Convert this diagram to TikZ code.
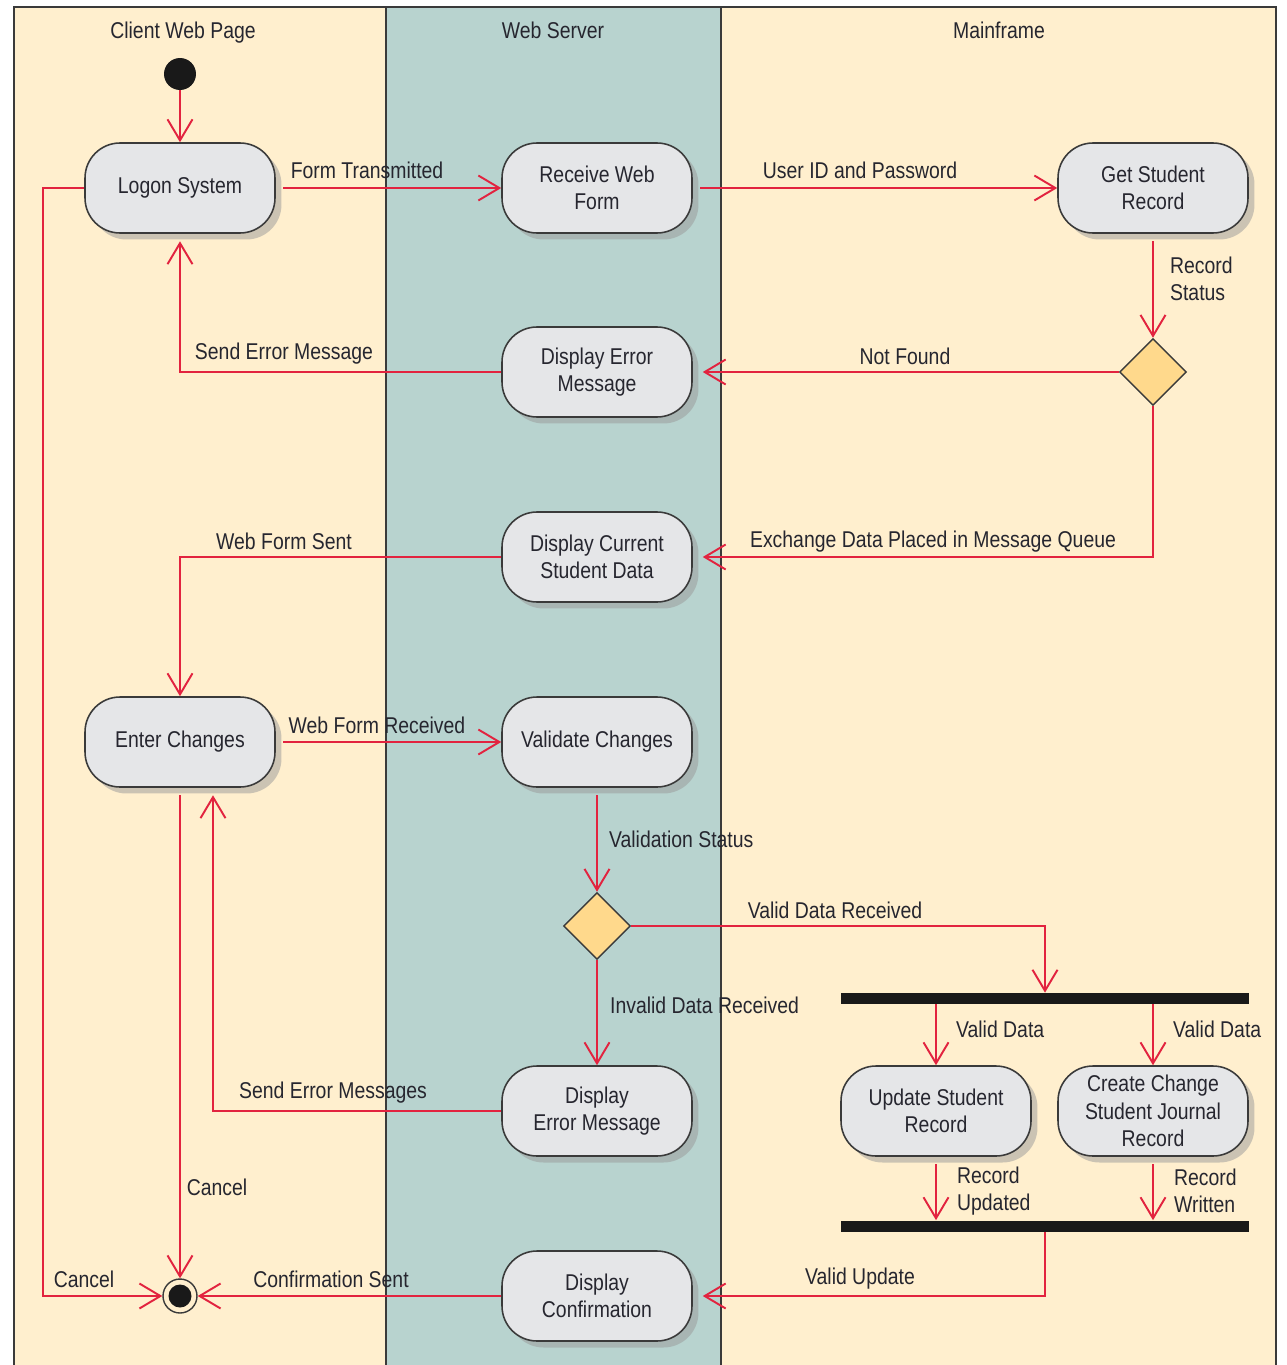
\documentclass[tikz,border=0pt]{standalone}
\usepackage{fontspec}
\setmainfont{Liberation Sans}[FakeStretch=0.85]
\usetikzlibrary{arrows.meta,shapes.geometric,shadows,calc}
\definecolor{creamlane}{HTML}{FFEFCE}
\definecolor{tealane}{HTML}{B8D3CF}
\definecolor{nodefill}{HTML}{E5E6E8}
\definecolor{decfill}{HTML}{FFD98C}
\definecolor{flowred}{HTML}{E2233F}
\definecolor{framegray}{HTML}{3A3A3A}
\definecolor{txtcol}{HTML}{26262F}
\begin{document}
\begin{tikzpicture}[x=0.02cm,y=-0.02cm,
 font=\fontsize{13}{15.5}\selectfont,
 act/.style={draw=framegray, line width=0.9pt, fill=nodefill, rounded corners=0.7cm,
   minimum width=3.8cm, minimum height=1.8cm, align=center, text=txtcol,
   drop shadow={shadow xshift=0.13cm, shadow yshift=-0.13cm, fill=black!40}},
 dec/.style={diamond, draw=framegray, line width=0.8pt, fill=decfill,
   minimum width=1.34cm, minimum height=1.34cm, inner sep=0pt, aspect=1},
 bar/.style={fill=black!90, minimum width=8.16cm, minimum height=0.22cm, inner sep=0pt},
 flowline/.style={draw=flowred, line width=1.1pt, -{Straight Barb[length=0.42cm,width=0.5cm]}},
 fromshadow/.style={shorten <=0.15cm},
 toshadow/.style={shorten >=0.2cm},
 lbl/.style={inner sep=1pt, text=txtcol, align=left},
 title/.style={inner sep=1pt, text=txtcol, anchor=base},
]
\useasboundingbox (0,0) rectangle (1286,1365);
% lanes
\fill[white] (0,0) rectangle (1286,1365);
\fill[creamlane] (14,7) rectangle (386,1365);
\fill[tealane] (386,7) rectangle (721,1365);
\fill[creamlane] (721,7) rectangle (1276,1365);
\draw[framegray, line width=1.2pt] (14,1365) -- (14,7) -- (1276,7) -- (1276,1365);
\draw[framegray, line width=1.2pt] (386,7) -- (386,1365);
\draw[framegray, line width=1.2pt] (721,7) -- (721,1365);
\node[title] (t1) at (183,39) {Client Web Page};
\node[title] (t2) at (553,39) {Web Server};
\node[title] (t3) at (999,39) {Mainframe};

% nodes
\node[circle, fill=black!90, minimum size=0.64cm, inner sep=0pt] (start) at (180,74) {};
\node[act] (logon) at (180,188) {Logon System};
\node[act] (recv) at (597,188) {Receive Web\\Form};
\node[act] (get) at (1153,188) {Get Student\\Record};
\node[dec] (dec1) at (1153,372) {};
\node[act] (err1) at (597,372) {Display Error\\Message};
\node[act] (cur) at (597,557) {Display Current\\Student Data};
\node[act] (enter) at (180,742) {Enter Changes};
\node[act] (valid) at (597,742) {Validate Changes};
\node[dec] (dec2) at (597,926) {};
\node[bar] (fork) at (1045,998.5) {};
\node[act] (upd) at (936,1111) {Update Student\\Record};
\node[act] (jour) at (1153,1111) {Create Change\\Student Journal\\Record};
\node[bar] (join) at (1045,1226) {};
\node[act] (err2) at (597,1111) {Display\\Error Message};
\node[act] (conf) at (597,1296) {Display\\Confirmation};
\node[circle, draw=framegray, fill=creamlane, line width=0.8pt, minimum size=0.68cm, inner sep=0pt] (end) at (180,1296) {};
\node[circle, fill=black!90, minimum size=0.46cm, inner sep=0pt] (endin) at (180,1296) {};
\coordinate (cl) at (43,188);

% edges
\draw[flowline] (start) -- (logon);
\draw[flowline, fromshadow] (logon) -- (recv);
\draw[flowline, fromshadow] (recv) -- (get);
\draw[flowline, fromshadow] (get) -- (dec1);
\draw[flowline, toshadow] (dec1) -- (err1);
\draw[flowline, shorten >=0.15cm] (err1.west) -| (logon.south);
\draw[flowline, toshadow] (dec1.south) |- (cur.east);
\draw[flowline] (cur.west) -| (enter.north);
\draw[flowline, fromshadow] (enter) -- (valid);
\draw[flowline, fromshadow] (valid) -- (dec2);
\draw[flowline] (dec2.east) -| (fork.north);
\draw[flowline] (dec2.south) -- (err2.north);
\draw[flowline] (upd.north |- fork.south) -- (upd.north);
\draw[flowline] (jour.north |- fork.south) -- (jour.north);
\draw[flowline, fromshadow] (upd.south) -- (upd.south |- join.north);
\draw[flowline, fromshadow] (jour.south) -- (jour.south |- join.north);
\draw[flowline, toshadow] (join.south) |- (conf.east);
\draw[flowline] (conf.west) -- (end.east);
\draw[flowline, shorten >=0.15cm] (err2.west) -| ($(enter.south)+(33,0)$);
\draw[flowline, fromshadow] (enter.south) -- (end.north);
\draw[flowline] (logon.west) -- (cl) |- (end.west);

% labels
\node[lbl] (l1) at (367,170) {Form Transmitted};
\node[lbl] (l2) at (860,170) {User ID and Password};
\node[lbl, anchor=west] (l3) at (1168,279) {Record\\Status};
\node[lbl] (l4) at (905,356) {Not Found};
\node[lbl] (l5) at (284,354) {Send Error Message};
\node[lbl] (l6) at (933,542) {Exchange Data Placed in Message Queue};
\node[lbl] (l7) at (284,541) {Web Form Sent};
\node[lbl] (l8) at (377,725) {Web Form Received};
\node[lbl, anchor=west] (l9) at (607,839) {Validation Status};
\node[lbl] (l10) at (835,910) {Valid Data Received};
\node[lbl, anchor=west] (l11) at (608,1005) {Invalid Data Received};
\node[lbl, anchor=west] (l12) at (954,1029) {Valid Data};
\node[lbl, anchor=west] (l13) at (1171,1029) {Valid Data};
\node[lbl, anchor=west] (l14) at (955,1191) {Record\\Updated};
\node[lbl, anchor=west] (l15) at (1172,1191) {Record\\Written};
\node[lbl] (l16) at (860,1279) {Valid Update};
\node[lbl] (l17) at (331,1279) {Confirmation Sent};
\node[lbl] (l18) at (333,1093) {Send Error Messages};
\node[lbl] (l19) at (217,1187) {Cancel};
\node[lbl] (l20) at (84,1279) {Cancel};
\end{tikzpicture}
\end{document}
